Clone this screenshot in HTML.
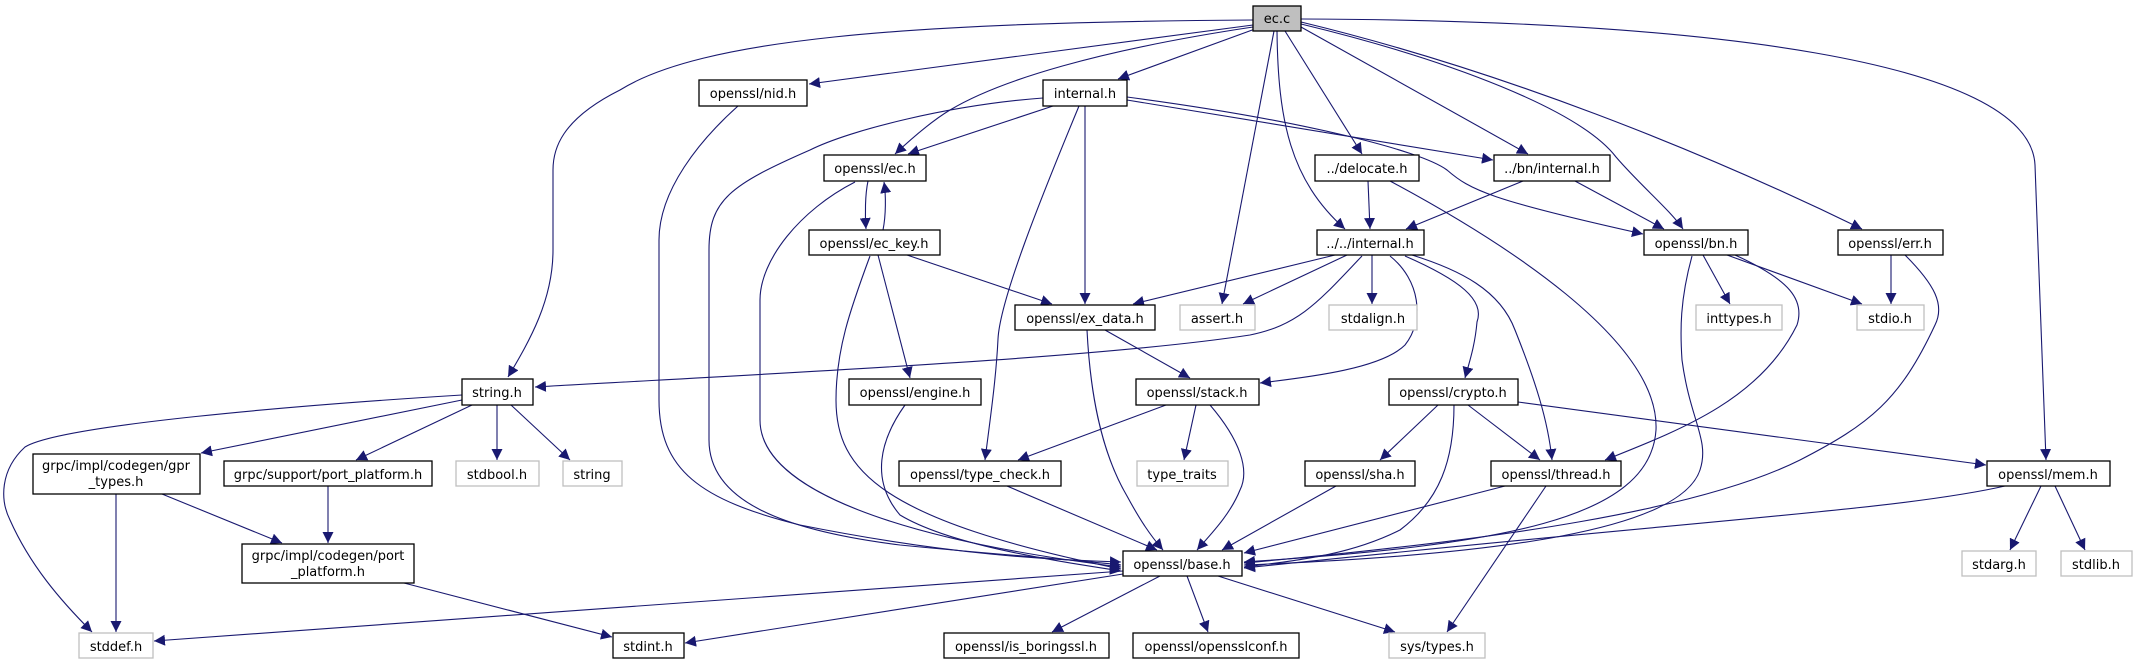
<!DOCTYPE html>
<html><head><meta charset="utf-8"><style>
html,body{margin:0;padding:0;background:#fff;}
svg{display:block;}
text{font-family:"DejaVu Sans","Liberation Sans",sans-serif;font-size:13px;fill:#000;}
.n{fill:#fff;stroke:#000;stroke-width:1.3;}
.g{fill:#fff;stroke:#bfbfbf;stroke-width:1.3;}
.e{fill:none;stroke:#191970;stroke-width:1.1;marker-end:url(#a);}
</style></head><body>
<svg width="2137" height="664" viewBox="0 0 2137 664" xmlns="http://www.w3.org/2000/svg">
<defs><marker id="a" viewBox="0 0 10 10" refX="10" refY="5" markerWidth="11" markerHeight="11" markerUnits="userSpaceOnUse" orient="auto"><path d="M0,0 L10,5 L0,10 z" fill="#191970"/></marker></defs>

<!-- edges from ec.c -->
<path class="e" d="M1253,20 C900,22 700,40 620,90 C560,120 553,150 553,170 L553,250 C553,300 530,340 508,377"/>
<path class="e" d="M1253,25 L809,84"/>
<path class="e" d="M1255,29 L1118,79"/>
<path class="e" d="M1253,27 C1100,50 1000,80 950,110 C930,122 910,140 895,154"/>
<path class="e" d="M1274,31 L1222,304"/>
<path class="e" d="M1285,31 L1362,154"/>
<path class="e" d="M1277,31 C1278,120 1290,180 1345,229"/>
<path class="e" d="M1301,27 L1528,154"/>
<path class="e" d="M1301,24 C1450,60 1580,110 1616,157 C1640,185 1670,210 1683,229"/>
<path class="e" d="M1301,22 C1500,70 1700,150 1862,229"/>
<path class="e" d="M1301,19 C1700,20 2030,60 2035,165 L2040,300 L2046,460"/>

<!-- internal.h -->
<path class="e" d="M1053,106 L908,154"/>
<path class="e" d="M1085,106 L1085,304"/>
<path class="e" d="M1079,106 C1040,200 1000,300 998,339 C996,380 990,420 985,460"/>
<path class="e" d="M1127,100 L1493,160"/>
<path class="e" d="M1127,97 C1300,120 1420,150 1447,170 C1470,190 1490,200 1643,234"/>

<!-- to base.h left side -->
<path class="e" d="M738,106 C700,140 659,190 659,240 L659,400 C659,470 700,500 800,525 C950,555 1050,560 1121,562"/>
<path class="e" d="M1043,98 C950,105 850,130 810,150 C730,185 709,200 709,250 L709,440 C709,500 780,530 900,545 C1000,555 1080,560 1121,565"/>
<path class="e" d="M855,182 C800,210 760,260 760,300 L760,420 C760,490 900,540 1121,567"/>
<path class="e" d="M870,256 C850,310 836,350 836,400 C836,470 880,520 1121,569"/>
<path class="e" d="M905,405 C880,440 870,480 900,515 C950,545 1050,560 1121,571"/>

<!-- ec.h / ec_key -->
<path class="e" d="M868,181 C865,195 865,215 866,229"/>
<path class="e" d="M883,230 C886,215 886,195 884,182"/>
<path class="e" d="M907,255 L1052,304"/>
<path class="e" d="M878,255 L910,378"/>

<!-- delocate / bn internal -->
<path class="e" d="M1368,181 L1370,229"/>
<path class="e" d="M1390,181 C1500,240 1660,340 1656,430 C1650,520 1500,545 1244,562"/>
<path class="e" d="M1523,181 L1406,229"/>
<path class="e" d="M1575,181 L1664,229"/>

<!-- ../../internal.h -->
<path class="e" d="M1335,255 L1133,304"/>
<path class="e" d="M1347,255 L1243,304"/>
<path class="e" d="M1372,255 L1372,304"/>
<path class="e" d="M1362,256 C1320,300 1300,325 1250,335 C1100,358 800,372 535,387"/>
<path class="e" d="M1390,256 C1420,280 1425,320 1405,345 C1380,370 1300,378 1260,383"/>
<path class="e" d="M1405,256 C1460,280 1485,300 1477,322 C1475,345 1470,360 1465,378"/>
<path class="e" d="M1412,255 C1460,270 1500,290 1515,330 C1535,380 1548,420 1552,460"/>

<!-- bn.h / err.h -->
<path class="e" d="M1703,255 L1730,304"/>
<path class="e" d="M1727,255 L1862,304"/>
<path class="e" d="M1735,255 C1790,280 1805,300 1797,325 C1760,400 1680,430 1605,460"/>
<path class="e" d="M1692,256 C1680,300 1680,330 1682,360 C1690,420 1710,440 1700,470 C1680,530 1500,555 1244,565"/>
<path class="e" d="M1891,255 L1891,304"/>
<path class="e" d="M1905,255 C1935,285 1945,305 1935,325 C1900,400 1870,424 1800,460 C1700,510 1500,540 1244,563"/>

<!-- ex_data / stack / crypto -->
<path class="e" d="M1105,330 L1190,378"/>
<path class="e" d="M1087,330 C1090,390 1100,450 1127,496 C1140,520 1150,535 1163,550"/>
<path class="e" d="M1166,405 L1018,460"/>
<path class="e" d="M1196,405 L1184,460"/>
<path class="e" d="M1210,405 C1240,440 1250,470 1240,490 C1230,515 1210,535 1197,550"/>
<path class="e" d="M1438,405 L1380,460"/>
<path class="e" d="M1468,405 L1540,460"/>
<path class="e" d="M1454,405 C1454,460 1440,500 1400,530 C1350,555 1300,560 1244,567"/>
<path class="e" d="M1518,402 L1986,465"/>

<!-- lower -->
<path class="e" d="M1007,486 L1157,550"/>
<path class="e" d="M1336,486 L1222,550"/>
<path class="e" d="M1505,486 L1244,553"/>
<path class="e" d="M1546,486 L1447,632"/>
<path class="e" d="M2005,486 C1900,510 1700,520 1244,568"/>
<path class="e" d="M2041,486 L2010,550"/>
<path class="e" d="M2055,486 L2085,550"/>

<!-- string.h -->
<path class="e" d="M462,395 C300,405 60,425 25,447 C0,470 0,500 10,520 C30,565 60,600 92,632"/>
<path class="e" d="M462,400 L201,453"/>
<path class="e" d="M472,405 L356,460"/>
<path class="e" d="M497,405 L497,460"/>
<path class="e" d="M511,405 L570,460"/>
<path class="e" d="M116,494 L116,632"/>
<path class="e" d="M162,494 L282,543"/>
<path class="e" d="M328,486 L328,543"/>
<path class="e" d="M404,583 L612,637"/>

<!-- base.h -->
<path class="e" d="M1123,571 L154,641"/>
<path class="e" d="M1123,574 L685,643"/>
<path class="e" d="M1160,576 L1052,632"/>
<path class="e" d="M1187,576 L1208,632"/>
<path class="e" d="M1218,576 L1395,632"/>

<!-- nodes -->
<rect x="1253" y="6" width="48" height="25" fill="#bfbfbf" stroke="#000" stroke-width="1.3"/><text x="1277" y="23" text-anchor="middle">ec.c</text>
<rect class="n" x="699" y="80" width="108" height="26"/><text x="753" y="98" text-anchor="middle">openssl/nid.h</text>
<rect class="n" x="1043" y="80" width="84" height="26"/><text x="1085" y="98" text-anchor="middle">internal.h</text>
<rect class="n" x="824" y="155" width="102" height="26"/><text x="875" y="173" text-anchor="middle">openssl/ec.h</text>
<rect class="n" x="1315" y="155" width="104" height="26"/><text x="1367" y="173" text-anchor="middle">../delocate.h</text>
<rect class="n" x="1494" y="155" width="116" height="26"/><text x="1552" y="173" text-anchor="middle">../bn/internal.h</text>
<rect class="n" x="809" y="230" width="131" height="25"/><text x="874" y="248" text-anchor="middle">openssl/ec_key.h</text>
<rect class="n" x="1317" y="230" width="107" height="25"/><text x="1370" y="248" text-anchor="middle">../../internal.h</text>
<rect class="n" x="1644" y="230" width="104" height="25"/><text x="1696" y="248" text-anchor="middle">openssl/bn.h</text>
<rect class="n" x="1838" y="230" width="105" height="25"/><text x="1890" y="248" text-anchor="middle">openssl/err.h</text>
<rect class="n" x="1015" y="305" width="140" height="25"/><text x="1085" y="323" text-anchor="middle">openssl/ex_data.h</text>
<rect class="g" x="1180" y="305" width="75" height="25"/><text x="1217" y="323" text-anchor="middle">assert.h</text>
<rect class="g" x="1329" y="305" width="88" height="25"/><text x="1373" y="323" text-anchor="middle">stdalign.h</text>
<rect class="g" x="1696" y="305" width="86" height="25"/><text x="1739" y="323" text-anchor="middle">inttypes.h</text>
<rect class="g" x="1857" y="305" width="67" height="25"/><text x="1890" y="323" text-anchor="middle">stdio.h</text>
<rect class="n" x="462" y="379" width="71" height="26"/><text x="497" y="397" text-anchor="middle">string.h</text>
<rect class="n" x="849" y="379" width="132" height="26"/><text x="915" y="397" text-anchor="middle">openssl/engine.h</text>
<rect class="n" x="1136" y="379" width="123" height="26"/><text x="1197" y="397" text-anchor="middle">openssl/stack.h</text>
<rect class="n" x="1389" y="379" width="129" height="26"/><text x="1453" y="397" text-anchor="middle">openssl/crypto.h</text>
<rect class="n" x="33" y="454" width="167" height="40"/><text x="116" y="470" text-anchor="middle">grpc/impl/codegen/gpr</text><text x="116" y="486" text-anchor="middle">_types.h</text>
<rect class="n" x="224" y="461" width="208" height="25"/><text x="328" y="479" text-anchor="middle">grpc/support/port_platform.h</text>
<rect class="g" x="456" y="461" width="83" height="25"/><text x="497" y="479" text-anchor="middle">stdbool.h</text>
<rect class="g" x="563" y="461" width="59" height="25"/><text x="592" y="479" text-anchor="middle">string</text>
<rect class="n" x="899" y="461" width="162" height="25"/><text x="980" y="479" text-anchor="middle">openssl/type_check.h</text>
<rect class="g" x="1137" y="461" width="91" height="25"/><text x="1182" y="479" text-anchor="middle">type_traits</text>
<rect class="n" x="1305" y="461" width="110" height="25"/><text x="1360" y="479" text-anchor="middle">openssl/sha.h</text>
<rect class="n" x="1491" y="461" width="130" height="25"/><text x="1556" y="479" text-anchor="middle">openssl/thread.h</text>
<rect class="n" x="1987" y="461" width="123" height="25"/><text x="2048" y="479" text-anchor="middle">openssl/mem.h</text>
<rect class="n" x="242" y="544" width="172" height="39"/><text x="328" y="560" text-anchor="middle">grpc/impl/codegen/port</text><text x="328" y="576" text-anchor="middle">_platform.h</text>
<rect class="n" x="1123" y="551" width="119" height="25"/><text x="1182" y="569" text-anchor="middle">openssl/base.h</text>
<rect class="g" x="1962" y="551" width="74" height="25"/><text x="1999" y="569" text-anchor="middle">stdarg.h</text>
<rect class="g" x="2061" y="551" width="71" height="25"/><text x="2096" y="569" text-anchor="middle">stdlib.h</text>
<rect class="g" x="79" y="633" width="74" height="25"/><text x="116" y="651" text-anchor="middle">stddef.h</text>
<rect class="n" x="613" y="633" width="71" height="25"/><text x="648" y="651" text-anchor="middle">stdint.h</text>
<rect class="n" x="944" y="633" width="165" height="25"/><text x="1026" y="651" text-anchor="middle">openssl/is_boringssl.h</text>
<rect class="n" x="1133" y="633" width="166" height="25"/><text x="1216" y="651" text-anchor="middle">openssl/opensslconf.h</text>
<rect class="g" x="1389" y="633" width="96" height="25"/><text x="1437" y="651" text-anchor="middle">sys/types.h</text>
</svg>
</body></html>
